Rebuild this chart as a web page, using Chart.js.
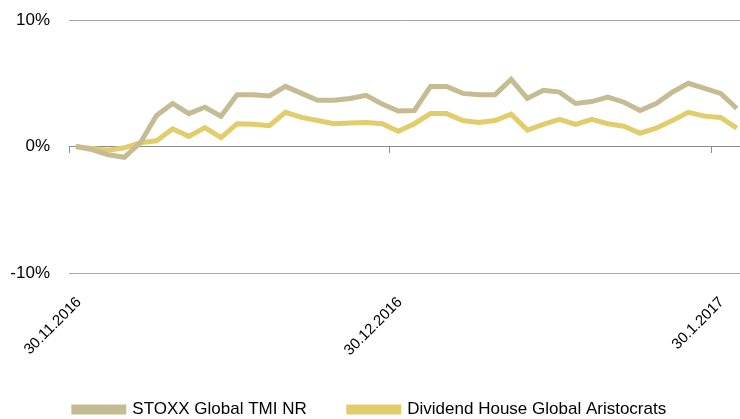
<!DOCTYPE html>
<html>
<head>
<meta charset="utf-8">
<script src="https://cdn.jsdelivr.net/npm/chart.js@4/dist/chart.umd.min.js"></script>
<style>
  html, body { margin: 0; padding: 0; background: #fff; }
  #wrap { width: 740px; height: 419px; }
</style>
</head>
<body>
<div id="wrap"><canvas id="myChart"></canvas></div>
<script>
// series values in % (one point per trading day, index 0 = 30.11.2016)
var stoxx = [
  0, -0.25, -0.65, -0.85, 0.3, 2.45, 3.4, 2.6, 3.1, 2.4,
  4.1, 4.1, 4.0, 4.75, 4.2, 3.65, 3.65, 3.8, 4.05, 3.35,
  2.8, 2.85, 4.75, 4.75, 4.2, 4.1, 4.1, 5.3, 3.8, 4.45,
  4.3, 3.4, 3.55, 3.9, 3.5, 2.85, 3.4, 4.3, 5.0, 4.6,
  4.2, 3.0
];
var aristocrats = [
  0, -0.15, -0.3, -0.1, 0.3, 0.45, 1.4, 0.8, 1.5, 0.7,
  1.8, 1.75, 1.65, 2.7, 2.3, 2.05, 1.8, 1.85, 1.9, 1.8,
  1.2, 1.8, 2.6, 2.6, 2.05, 1.9, 2.05, 2.55, 1.3, 1.75,
  2.15, 1.75, 2.15, 1.8, 1.6, 1.05, 1.45, 2.05, 2.7, 2.4,
  2.3, 1.45
];
var seriesNames = ["STOXX Global TMI NR", "Dividend House Global Aristocrats"];
var dateLabels = ["30.11.2016", "30.12.2016", "30.1.2017"];
var datePos = [-0.43, 19.48, 39.45]; // where the date ticks fall on the day index axis
var yTicks = [-10, 0, 10];

var FONT = "'Liberation Sans', Arial, sans-serif";

function toPoints(arr) {
  return arr.map(function (v, i) { return { x: i, y: v }; });
}
function noPad(scale) {
  scale.paddingLeft = 0;
  scale.paddingRight = 0;
  scale.paddingTop = 0;
  scale.paddingBottom = 0;
}

new Chart("myChart", {
  type: "line",
  data: {
    datasets: [
      {
        label: seriesNames[0],
        data: toPoints(stoxx),
        borderColor: "#c5bc94",
        backgroundColor: "#c5bc94",
        borderWidth: 5,
        pointRadius: 0,
        tension: 0,
      },
      {
        label: seriesNames[1],
        data: toPoints(aristocrats),
        borderColor: "#e2cd6c",
        backgroundColor: "#e2cd6c",
        borderWidth: 5,
        pointRadius: 0,
        tension: 0,
      },
    ],
  },
  options: {
    responsive: true,
    maintainAspectRatio: false,
    animation: false,
    layout: { padding: { top: 20, right: 0, left: 0, bottom: -9 } },
    plugins: {
      tooltip: { enabled: false },
      legend: {
        position: "bottom",
        labels: {
          font: { family: FONT, size: 17 },
          color: "#000",
          boxWidth: 50,
          boxHeight: 5,
          padding: 42,
        },
      },
    },
    scales: {
      // the date axis sits on the 0% line; its labels hang below the plot
      x: {
        type: "linear",
        position: { y: 0 },
        min: -0.43,
        max: 41.2,
        afterBuildTicks: function (scale) {
          scale.ticks = datePos.map(function (p) { return { value: p }; });
        },
        afterFit: noPad,
        ticks: {
          autoSkip: false,
          maxRotation: 45,
          minRotation: 45,
          padding: 141,
          labelOffset: 10,
          color: "#000",
          font: { family: FONT, size: 15 },
          callback: function (value, index) { return dateLabels[index]; },
        },
        grid: {
          drawOnChartArea: false,
          drawTicks: true,
          tickLength: 6,
          color: "#8c8c8c",
          lineWidth: 1,
        },
        border: { display: true, color: "#8c8c8c", width: 1 },
      },
      // empty bottom axis that only keeps room for the date labels
      xs: {
        type: "linear",
        position: "bottom",
        afterFit: function (scale) {
          scale.height = 86;
          noPad(scale);
        },
        ticks: { display: false },
        grid: { display: false },
        border: { display: false },
      },
      y: {
        min: -10,
        max: 10,
        afterBuildTicks: function (scale) {
          scale.ticks = yTicks.map(function (v) { return { value: v }; });
        },
        afterFit: function (scale) {
          scale.width = 69;
          noPad(scale);
        },
        ticks: {
          padding: 19,
          color: "#000",
          font: { family: FONT, size: 17 },
          callback: function (v) { return v + "%"; },
        },
        grid: {
          color: "#a6a6a6",
          lineWidth: 1,
          drawTicks: false,
        },
        border: { display: false },
      },
    },
  },
});
</script>
</body>
</html>
